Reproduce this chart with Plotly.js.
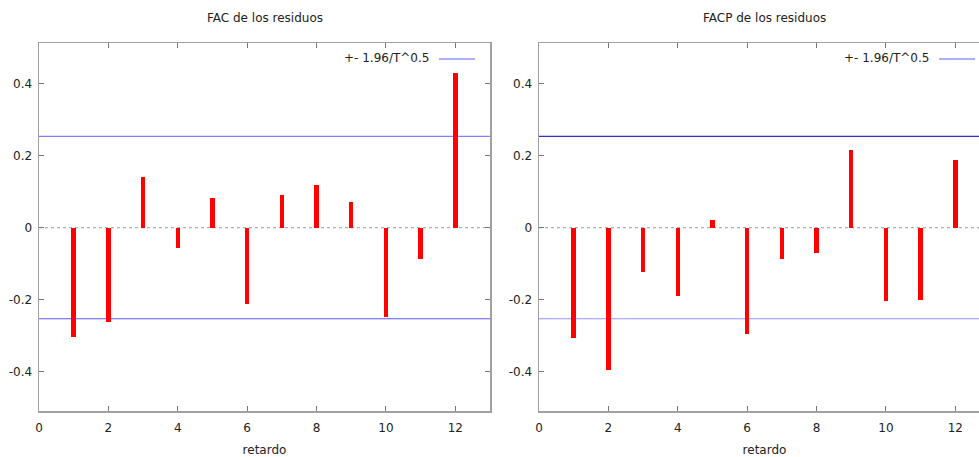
<!DOCTYPE html>
<html>
<head>
<meta charset="utf-8">
<script src="https://cdn.plot.ly/plotly-3.0.1.min.js"></script>
<style>
html,body{margin:0;padding:0;overflow:hidden;background:#fff;width:979px;height:457px;}
#chart{width:990px;height:457px;}
</style>
</head>
<body>
<div id="chart"></div>
<script>
const lags = [1,2,3,4,5,6,7,8,9,10,11,12];
const facValues = [-0.305,-0.263,0.139,-0.056,0.082,-0.213,0.089,0.119,0.071,-0.247,-0.088,0.428];
const facpValues = [-0.307,-0.395,-0.122,-0.190,0.020,-0.296,-0.086,-0.072,0.215,-0.205,-0.201,0.187];
const confBand = 0.253;
const xTickVals = [0,2,4,6,8,10,12];
const xTickText = ['0','2','4','6','8','10','12'];
const yTickVals = [0.4,0.2,0,-0.2,-0.4];
const yTickText = ['0.4','0.2','0','-0.2','-0.4'];
const titles = ['FAC de los residuos','FACP de los residuos'];
const legendText = '+- 1.96/T^0.5';
const xTitle = 'retardo';

const W = 990;
const font = {family:'DejaVu Sans, Verdana, sans-serif', size:12, color:'#222'};
const frame = '#a0a0a0';

function xaxis(dom, anchor){
  return {domain:dom, anchor:anchor, range:[0,13], tickvals:xTickVals, ticktext:xTickText,
    ticks:'inside', ticklen:5, tickcolor:'#777', mirror:'ticks', showline:true, linecolor:frame, linewidth:1.5,
    showgrid:false, zeroline:false, ticklabelstandoff:5, tickfont:font,
    title:{text:xTitle, font:font, standoff:17}};
}
function yaxis(anchor){
  return {domain:[0,1], anchor:anchor, range:[-0.509,0.512], tickvals:yTickVals, ticktext:yTickText,
    ticks:'inside', ticklen:5, tickcolor:'#777', mirror:'ticks', showline:true, linecolor:frame, linewidth:1.5,
    showgrid:false, zeroline:false, ticklabelstandoff:3, tickfont:font};
}

const traces = [
  {type:'bar', x:lags, y:facValues, xaxis:'x', yaxis:'y', width:0.13, marker:{color:'#ff0000', line:{width:0}}, showlegend:false, hoverinfo:'x+y'},
  {type:'bar', x:lags, y:facpValues, xaxis:'x2', yaxis:'y2', width:0.13, marker:{color:'#ff0000', line:{width:0}}, showlegend:false, hoverinfo:'x+y'}
];

const d1 = [39/W, 490/W];
const d2 = [539/W, 990/W];
const PH = 368;

function bandShapes(xr, yr, upColor, loColor){
  return [
    {type:'line', xref:xr+' domain', yref:yr, x0:0, x1:1, y0:confBand, y1:confBand, line:{color:upColor, width:1.2}, layer:'below'},
    {type:'line', xref:xr+' domain', yref:yr, x0:0, x1:1, y0:-confBand, y1:-confBand, line:{color:loColor, width:1.2}, layer:'below'},
    {type:'line', xref:xr+' domain', yref:yr, x0:0, x1:1, y0:0, y1:0, line:{color:'#b0b0b0', width:1.2, dash:'dot'}, layer:'below'}
  ];
}

const legY = 1-(59-43)/PH;
const shapes = [].concat(
  bandShapes('x','y','#8080f8','#5a5af0'),
  bandShapes('x2','y2','#3030c8','#9090f8'),
  [
    {type:'line', xref:'paper', yref:'paper', x0:439/W, x1:475/W, y0:legY, y1:legY, line:{color:'#6060f0', width:1.2}},
    {type:'line', xref:'paper', yref:'paper', x0:939/W, x1:975/W, y0:legY, y1:legY, line:{color:'#6060f0', width:1.2}}
  ]
);

const annotations = [
  {text:titles[0], xref:'paper', yref:'paper', x:(39+490)/2/W, y:1+(43-18)/PH, xanchor:'center', yanchor:'middle', showarrow:false, font:font},
  {text:titles[1], xref:'paper', yref:'paper', x:(539+990)/2/W, y:1+(43-18)/PH, xanchor:'center', yanchor:'middle', showarrow:false, font:font},
  {text:legendText, xref:'paper', yref:'paper', x:431/W, y:1-(58-43)/PH, xanchor:'right', yanchor:'middle', showarrow:false, font:font},
  {text:legendText, xref:'paper', yref:'paper', x:931/W, y:1-(58-43)/PH, xanchor:'right', yanchor:'middle', showarrow:false, font:font}
];

const layout = {
  width:W, height:457, margin:{l:0, r:0, t:43, b:46},
  paper_bgcolor:'#fff', plot_bgcolor:'#fff', font:font, showlegend:false, bargap:0,
  xaxis:xaxis(d1,'y'), yaxis:yaxis('x'),
  xaxis2:xaxis(d2,'y2'), yaxis2:yaxis('x2'),
  shapes:shapes, annotations:annotations
};

Plotly.newPlot('chart', traces, layout, {displayModeBar:false, staticPlot:true});
</script>
</body>
</html>
